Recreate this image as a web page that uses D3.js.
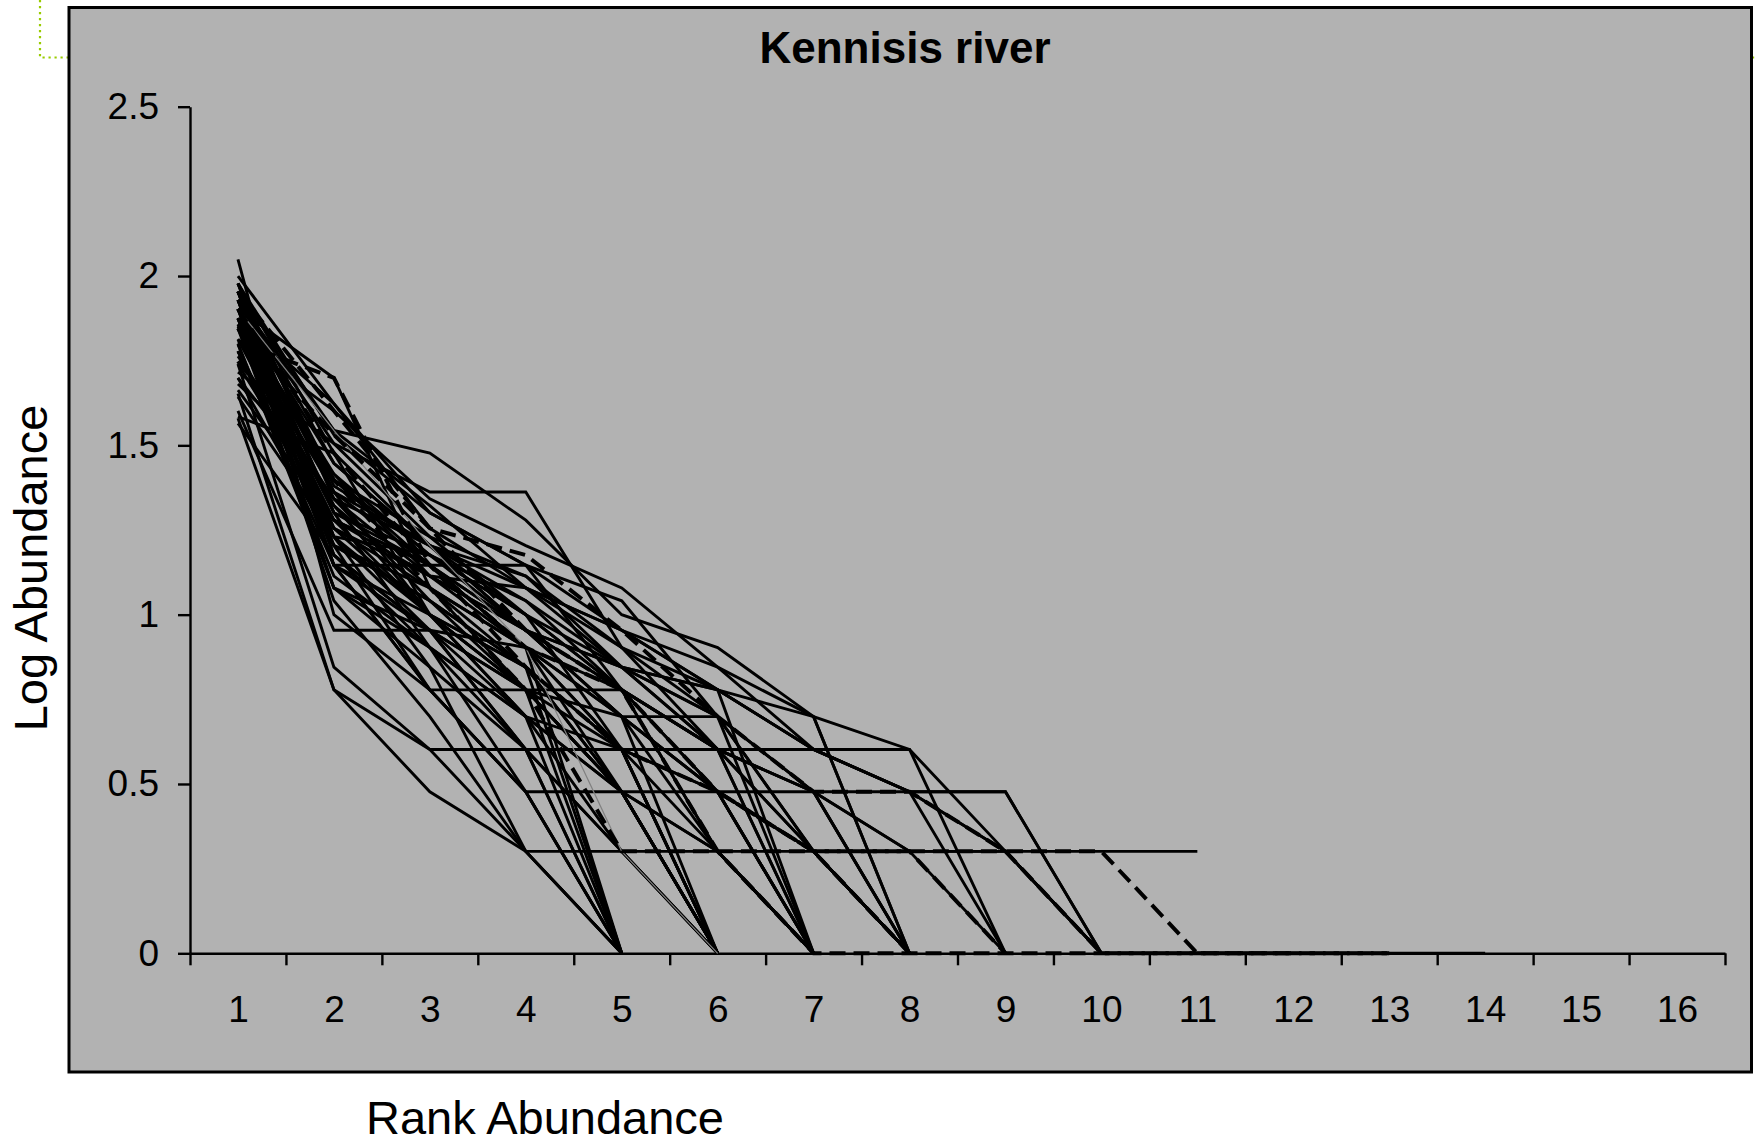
<!DOCTYPE html>
<html>
<head>
<meta charset="utf-8">
<script src="https://cdn.jsdelivr.net/npm/d3@7"></script>
<style>
  html, body { margin: 0; padding: 0; background: #ffffff; }
  svg { display: block; }
  text { font-family: "Liberation Sans", Arial, sans-serif; fill: #000; }
</style>
</head>
<body>
<svg id="chart" width="1756" height="1146"></svg>
<script>
// ---------- data ----------
const chartTitle = "Kennisis river";
const xAxisTitle = "Rank Abundance";
const yAxisTitle = "Log Abundance";
const rankLabels = ["1","2","3","4","5","6","7","8","9","10","11","12","13","14","15","16"];
const yTickValues = [0, 0.5, 1, 1.5, 2, 2.5];
const yTickLabels = ["0", "0.5", "1", "1.5", "2", "2.5"];

// log10 abundance by rank, one array per sample (solid lines)
const solidSeries = [
  [2.049, 1.000, 0.778, 0.477, 0],
  [1.903, 1.176, 0.954, 0.602, 0],
  [1.954, 1.301, 0.903, 0.477, 0],
  [1.845, 1.079, 0.845, 0.301, 0],
  [1.778, 1.255, 1.000, 0.699, 0],
  [1.929, 1.146, 0.778, 0.477, 0],
  [1.699, 1.204, 1.041, 0.778, 0],
  [1.875, 1.041, 0.699, 0.301, 0],
  [1.602, 0.954, 0.954, 0.602, 0],
  [1.813, 1.322, 1.079, 0.845, 0],
  [1.978, 1.362, 1.146, 0.903, 0],
  [1.740, 0.845, 0.602, 0.301, 0],
  [1.929, 1.398, 1.146, 0.903, 0.602, 0],
  [1.875, 1.230, 0.954, 0.778, 0.477, 0],
  [1.699, 1.342, 1.204, 0.954, 0.699, 0],
  [1.954, 1.146, 1.000, 0.845, 0.477, 0],
  [1.799, 1.079, 0.903, 0.699, 0.301, 0],
  [1.903, 1.699, 1.079, 0.778, 0.477, 0],
  [1.954, 1.447, 1.204, 1.000, 0.778, 0.602, 0],
  [1.857, 1.301, 1.146, 0.954, 0.699, 0.477, 0],
  [1.778, 1.204, 1.079, 0.903, 0.778, 0.301, 0],
  [2.000, 1.623, 1.255, 1.079, 0.845, 0.699, 0],
  [1.903, 1.362, 1.000, 0.778, 0.602, 0.477, 0],
  [1.929, 1.544, 1.477, 1.279, 1.000, 0.903, 0.699, 0],
  [1.903, 1.447, 1.204, 0.954, 0.845, 0.778, 0.699, 0],
  [1.875, 1.398, 1.176, 1.041, 0.778, 0.602, 0.301, 0],
  [1.954, 1.544, 1.322, 1.079, 0.903, 0.699, 0.477, 0],
  [1.813, 1.279, 1.000, 0.778, 0.699, 0.477, 0.301, 0],
  [1.653, 0.778, 0.602, 0.602, 0.602, 0.602, 0.602, 0.602, 0],
  [1.978, 1.531, 1.301, 1.146, 0.954, 0.778, 0.602, 0.477, 0],
  [1.875, 1.415, 1.176, 1.000, 0.845, 0.602, 0.477, 0.301, 0],
  [1.778, 1.146, 0.778, 0.477, 0.477, 0.477, 0.477, 0.477, 0.477, 0],
  [1.929, 1.505, 1.362, 1.362, 0.903, 0.778, 0.602, 0.477, 0.301, 0],
  [1.845, 1.362, 1.204, 1.079, 0.954, 0.845, 0.699, 0.602, 0.301, 0],
  [1.580, 0.778, 0.477, 0.301, 0.301, 0.301, 0.301, 0.301, 0.301, 0.301, 0.301],
  [1.954, 1.398, 1.230, 1.000, 0.778, 0.602, 0.477, 0.301, 0.301, 0, 0, 0, 0, 0],
  [1.929, 1.146, 1.146, 1.146, 0.778, 0.301, 0],
  [1.851, 1.204, 0.778, 0.778, 0.778, 0.477, 0.301, 0],
  [1.565, 1.176, 0.903, 0.602, 0.301, 0],
  [1.585, 1.477, 1.000, 0.699, 0.477, 0],
  [1.663, 1.279, 1.114, 0.903, 0.699, 0.699, 0.301, 0],
  [1.716, 1.505, 1.230, 1.114, 0.903, 0.602, 0],
  [1.978, 1.176, 0.954, 0.699, 0.602, 0],
  [1.929, 1.255, 1.114, 0.954, 0.778, 0.477, 0.301, 0],
  [1.681, 1.415, 1.114, 1.079, 0.954, 0.778, 0],
  [1.875, 1.623, 1.301, 1.146, 1.041, 0.699, 0.477, 0],
  [1.763, 1.342, 1.041, 0.845, 0.477, 0.301, 0],
  [1.954, 1.230, 0.845, 0.602, 0.301, 0],
  [1.813, 1.602, 1.342, 1.204, 1.079, 0.845, 0.602, 0.477, 0.301, 0],
  [1.643, 1.230, 1.176, 1.000, 0.602, 0],
  [1.903, 1.079, 0.954, 0.903, 0.477, 0],
  [1.978, 1.477, 1.204, 1.114, 0.845, 0.699, 0.301, 0],
  [1.857, 1.279, 1.146, 0.954, 0.845, 0.778, 0.602, 0.477, 0.477, 0],
  [1.954, 1.204, 1.041, 0.845, 0.602, 0],
  [1.929, 1.301, 1.176, 0.954, 0.699, 0.477, 0],
  [1.875, 1.146, 0.954, 0.778, 0.477, 0],
  [1.845, 1.255, 1.079, 0.903, 0.699, 0.301, 0],
  [1.978, 1.342, 1.114, 0.954, 0.778, 0.602, 0.301, 0],
  [1.903, 1.230, 1.000, 0.845, 0.602, 0.477, 0],
  [1.799, 1.114, 0.903, 0.699, 0.477, 0.301, 0],
  [1.954, 1.380, 1.204, 1.041, 0.845, 0.602, 0.477, 0],
  [1.740, 1.279, 1.146, 0.903, 0.602, 0.301, 0],
  [1.875, 1.322, 1.000, 0.778, 0.477, 0]
];

// samples drawn with a thin grey line
const thinSeries = [
  [1.903, 1.544, 1.204, 0.903, 0.301, 0]
];

// samples drawn with dashed lines
const dashedSeries = [
  [1.845, 1.531, 1.255, 1.176, 0.954, 0.699, 0.477, 0.477, 0.301, 0.301, 0, 0, 0],
  [1.806, 1.699, 1.146, 0.903, 0.778, 0.301, 0, 0, 0, 0, 0, 0, 0],
  [1.954, 1.602, 1.255, 0.954, 0.778, 0.477, 0.301, 0],
  [1.903, 1.477, 1.146, 0.845, 0.602, 0.477, 0.301, 0.301, 0],
  [1.748, 1.398, 1.079, 0.778, 0.301, 0.301, 0.301, 0.301, 0.301, 0, 0, 0]
];

// ---------- drawing ----------
const svg = d3.select("#chart");

// stray green dotted guide (top-left and right edge)
svg.append("path")
  .attr("d", "M40,0 L40,57.5 L69,57.5 M1752,57.5 L1756,57.5")
  .attr("fill", "none")
  .attr("stroke", "#99cc00")
  .attr("stroke-width", 2.2)
  .attr("stroke-dasharray", "2.2,3.8");

// chart area
svg.append("rect")
  .attr("x", 69).attr("y", 7.5)
  .attr("width", 1682.5).attr("height", 1064.5)
  .attr("fill", "#b2b2b2")
  .attr("stroke", "#000")
  .attr("stroke-width", 3);

const plotLeft = 190, plotRight = 1725, plotTop = 106.7, plotBottom = 953.3;

const x = d3.scaleLinear().domain([0.5, rankLabels.length + 0.5]).range([plotLeft, plotRight]);
const y = d3.scaleLinear().domain([0, 2.5]).range([plotBottom, plotTop]);

// title
svg.append("text")
  .attr("x", 905).attr("y", 63)
  .attr("text-anchor", "middle")
  .attr("font-size", 44).attr("font-weight", "bold")
  .text(chartTitle);

// y axis
const yAxis = d3.axisLeft(y)
  .tickValues(yTickValues)
  .tickFormat((d, i) => yTickLabels[i])
  .tickSize(12)
  .tickPadding(19)
  .tickSizeOuter(0);
const gy = svg.append("g").attr("transform", `translate(${plotLeft},0)`).call(yAxis);
gy.select(".domain").attr("stroke", "#000").attr("stroke-width", 2.4);
gy.selectAll(".tick line").attr("stroke", "#000").attr("stroke-width", 2.4);
gy.selectAll(".tick text")
  .attr("font-family", "Liberation Sans, Arial, sans-serif")
  .attr("font-size", 37)
  .attr("fill", "#000");

// x axis: ticks at category boundaries, labels at category centres
const boundaryTicks = d3.range(0, rankLabels.length + 1).map(i => i + 0.5);
const xAxisTicks = d3.axisBottom(x)
  .tickValues(boundaryTicks)
  .tickFormat("")
  .tickSize(12)
  .tickSizeOuter(0);
const gx = svg.append("g").attr("transform", `translate(0,${plotBottom})`).call(xAxisTicks);
gx.select(".domain").attr("stroke", "#000").attr("stroke-width", 2.4);
gx.selectAll(".tick line").attr("stroke", "#000").attr("stroke-width", 2.4);

const xAxisLabels = d3.axisBottom(x)
  .tickValues(d3.range(1, rankLabels.length + 1))
  .tickFormat((d, i) => rankLabels[i])
  .tickSize(0)
  .tickSizeOuter(0);
const gxl = svg.append("g").attr("transform", `translate(0,${plotBottom})`).call(xAxisLabels);
gxl.select(".domain").remove();
gxl.selectAll(".tick text")
  .attr("font-family", "Liberation Sans, Arial, sans-serif")
  .attr("font-size", 37)
  .attr("fill", "#000")
  .attr("y", 68.5)
  .attr("dy", null);

// lines (drawn over the axes)
const line = d3.line().x((d, i) => x(i + 1)).y(d => y(d));
const gLines = svg.append("g");

gLines.selectAll("path.solid").data(solidSeries).join("path")
  .attr("class", "solid")
  .attr("d", line)
  .attr("fill", "none")
  .attr("stroke", "#000")
  .attr("stroke-width", 2.9)
  .attr("stroke-linejoin", "miter");

gLines.selectAll("path.thin").data(thinSeries).join("path")
  .attr("class", "thin")
  .attr("d", line)
  .attr("fill", "none")
  .attr("stroke", "#808080")
  .attr("stroke-width", 1.2);

gLines.selectAll("path.dashed").data(dashedSeries).join("path")
  .attr("class", "dashed")
  .attr("d", line)
  .attr("fill", "none")
  .attr("stroke", "#000")
  .attr("stroke-width", 4)
  .attr("stroke-dasharray", "16,8");

// axis titles
svg.append("text")
  .attr("x", 545).attr("y", 1134)
  .attr("text-anchor", "middle")
  .attr("font-size", 47)
  .text(xAxisTitle);

svg.append("text")
  .attr("transform", "translate(47,568) rotate(-90)")
  .attr("text-anchor", "middle")
  .attr("font-size", 47)
  .text(yAxisTitle);
</script>
</body>
</html>
